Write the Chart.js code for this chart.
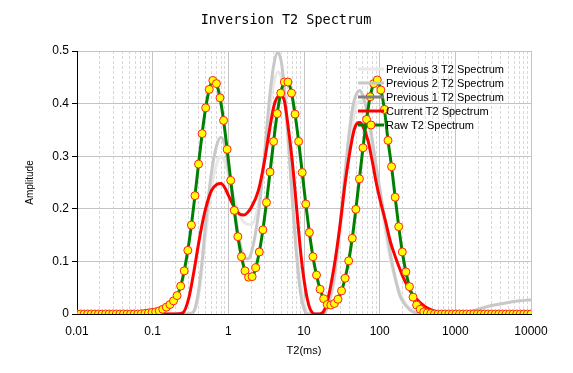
<!DOCTYPE html>
<html>
<head>
<meta charset="utf-8">
<script src="https://cdn.jsdelivr.net/npm/chart.js@4.4.1/dist/chart.umd.min.js"></script>
<style>
  html, body { margin:0; padding:0; background:#fff }
  #wrap { width:573px; height:373px }
</style>
</head>
<body>
<div id="wrap"><canvas id="t2Chart" width="573" height="373"></canvas></div>
<script>
// T2 axis: decades and their labels
const xDecades = [0.01, 0.1, 1, 10, 100, 1000, 10000]
const xTickLabels = ['0.01', '0.1', '1', '10', '100', '1000', '10000']
const yTicks = [0, 0.1, 0.2, 0.3, 0.4, 0.5]
const yTickLabels = ['0', '0.1', '0.2', '0.3', '0.4', '0.5']

// inversion grid: 128 bins, log spaced 0.01 .. 10000 ms
const nBins = 128
const t2Bins = []
for (let i = 0; i < nBins; i++) t2Bins.push(0.01 * Math.pow(10, 6 * i / (nBins - 1)))

// raw spectrum amplitude per bin
const rawAmp = [
  0,0,0,0,0,0,0,0,0,0, 0,0,0,0,0,0,0,0,0.0005,0.001,
  0.002,0.003,0.004,0.006,0.009,0.013,0.018,0.025,0.035,0.053,
  0.082,0.121,0.169,0.225,0.285,0.343,0.392,0.427,0.444,0.438,
  0.411,0.368,0.313,0.254,0.197,0.147,0.109,0.082,0.070,0.071,
  0.088,0.118,0.160,0.212,0.270,0.328,0.381,0.420,0.441,0.441,
  0.420,0.380,0.328,0.269,0.209,0.155,0.109,0.074,0.047,0.029,
  0.018,0.017,0.020,0.028,0.044,0.068,0.101,0.144,0.199,0.257,
  0.316,0.370,0.413,0.438,0.445,0.426,0.389,0.330,0.280,0.222,
  0.166,0.118,0.080,0.052,0.032,0.017,0.009,0.004,0.002,0.001,
  0,0,0,0,0,0,0,0,0,0, 0,0,0,0,0,0,0,0,0,0, 0,0,0,0,0,0,0,0
]

// current spectrum (T2 ms, amplitude)
const curT2  = [0.01,0.2,0.25,0.3,0.35,0.4,0.45,0.5,0.6,0.7,0.8,0.9,1,1.2,1.4,1.6,1.8,2,2.5,3,3.5,4,4.5,5,5.5,6,7,8,9,10,11,12,13,14,16,18,20,25,30,35,40,45,50,55,60,70,80,90,100,120,140,160,180,200,250,300,400,500,600,800,1000,10000]
const curAmp = [0,0,0.002,0.03,0.08,0.13,0.17,0.2,0.235,0.246,0.248,0.24,0.226,0.203,0.19,0.188,0.193,0.202,0.235,0.29,0.35,0.395,0.413,0.415,0.405,0.37,0.29,0.2,0.12,0.065,0.03,0.01,0.002,0,0,0.004,0.02,0.09,0.17,0.25,0.305,0.345,0.362,0.364,0.357,0.33,0.29,0.25,0.22,0.175,0.135,0.11,0.09,0.073,0.045,0.03,0.014,0.007,0.004,0.001,0,0]

// previous 2 spectrum
const prev2T2  = [0.01,0.3,0.35,0.4,0.45,0.5,0.6,0.7,0.8,0.9,1,1.2,1.4,1.6,1.8,2,2.5,3,3.5,4,4.5,5,5.5,6,7,8,9,10,11,18,20,25,30,35,40,45,50,55,60,70,80,90,100,120,140,160,180,200,250,300,400,1000,1500,2000,3000,5000,7000,10000]
const prev2Amp = [0,0,0.005,0.04,0.1,0.17,0.27,0.32,0.336,0.32,0.28,0.2,0.14,0.11,0.105,0.115,0.19,0.3,0.41,0.475,0.497,0.48,0.43,0.36,0.22,0.11,0.04,0.01,0,0,0.01,0.07,0.17,0.27,0.35,0.4,0.42,0.425,0.415,0.38,0.33,0.28,0.24,0.17,0.11,0.07,0.04,0.025,0.008,0.002,0,0,0.004,0.009,0.016,0.022,0.025,0.027]

// previous 3 spectrum
const prev3T2  = [0.01,0.3,0.4,0.5,0.6,0.7,0.8,0.9,1,1.2,1.5,2,2.5,3,3.5,4,4.5,5,5.5,6,7,8,10,12,18,20,25,30,40,50,60,80,100,140,200,300,400,10000]
const prev3Amp = [0,0,0.03,0.15,0.24,0.285,0.3,0.29,0.265,0.22,0.18,0.17,0.21,0.3,0.39,0.44,0.46,0.45,0.41,0.35,0.22,0.12,0.02,0,0,0.01,0.06,0.15,0.32,0.4,0.405,0.32,0.23,0.1,0.03,0.004,0,0]

// previous 1 spectrum (not shown in this run)
const prev1T2 = []
const prev1Amp = []

const seriesNames = ['Previous 3 T2 Spectrum', 'Previous 2 T2 Spectrum', 'Previous 1 T2 Spectrum', 'Current T2 Spectrum', 'Raw T2 Spectrum']

const pts = (xs, ys) => xs.map((x, i) => ({x, y: ys[i]}))

// minor gridlines 2..9 in each decade
const gridTicks = []
xDecades.forEach((d, k) => {
  gridTicks.push({value: d, major: true})
  if (k < xDecades.length - 1) for (let m = 2; m <= 9; m++) gridTicks.push({value: d * m, major: false})
})

const legendPlugin = {
  id: 'sideLegend',
  afterDraw(chart) {
    const ctx = chart.ctx
    ctx.save()
    ctx.font = '11px "Liberation Sans", Arial, sans-serif'
    ctx.textBaseline = 'middle'
    ctx.fillStyle = '#000'
    chart.data.datasets.forEach((ds, i) => {
      const y = 69 + i * 14
      ctx.strokeStyle = ds.borderColor
      ctx.lineWidth = 3
      ctx.beginPath(); ctx.moveTo(358, y); ctx.lineTo(384, y); ctx.stroke()
      if (ds.pointRadius > 0) {
        ctx.beginPath(); ctx.arc(371, y, 4, 0, Math.PI * 2)
        ctx.fillStyle = ds.pointBackgroundColor; ctx.fill()
        ctx.strokeStyle = ds.pointBorderColor; ctx.lineWidth = 1; ctx.stroke()
        ctx.fillStyle = '#000'
      }
      ctx.fillText(ds.label, 386, y + 0.5)
    })
    ctx.restore()
  }
}

const titlePlugin = {
  id: 'topTitle',
  afterDraw(chart) {
    const ctx = chart.ctx
    ctx.save()
    ctx.font = '13.5px "DejaVu Sans Mono", monospace'
    ctx.textAlign = 'center'
    ctx.textBaseline = 'middle'
    ctx.fillStyle = '#000'
    ctx.fillText('Inversion T2 Spectrum', 286, 20.5)
    ctx.restore()
  }
}

const lineDs = (label, data, color, order) => ({
  label, data, borderColor: color, backgroundColor: color, borderWidth: 3,
  pointRadius: 0, pointHoverRadius: 0, tension: 0.4, cubicInterpolationMode: 'monotone',
  fill: false, order
})

new Chart(document.getElementById('t2Chart'), {
  type: 'line',
  data: {
    datasets: [
      lineDs(seriesNames[0], pts(prev3T2, prev3Amp), '#e8e8e8', 5),
      lineDs(seriesNames[1], pts(prev2T2, prev2Amp), '#c8c8c8', 4),
      lineDs(seriesNames[2], pts(prev1T2, prev1Amp), '#808080', 3),
      lineDs(seriesNames[3], pts(curT2, curAmp), '#ff0000', 2),
      {
        label: seriesNames[4], data: pts(t2Bins, rawAmp), borderColor: '#008000', borderWidth: 3,
        pointRadius: 4, pointBorderWidth: 1, pointBackgroundColor: '#ffff00', pointBorderColor: '#ff2020',
        tension: 0.4, cubicInterpolationMode: 'monotone', fill: false, order: 1
      }
    ]
  },
  options: {
    responsive: false,
    animation: false,
    events: [],
    layout: { padding: { top: 51, right: 42, bottom: 0, left: 0 } },
    plugins: { legend: { display: false }, tooltip: { enabled: false }, title: { display: false } },
    scales: {
      x: {
        type: 'logarithmic', min: 0.01, max: 10000,
        afterBuildTicks: s => { s.ticks = gridTicks.map(t => ({value: t.value, major: t.major})) },
        afterFit: s => { s.height = 59 },
        ticks: {
          autoSkip: false, maxRotation: 0, padding: 6, color: '#000',
          font: { family: '"Liberation Sans", Arial, sans-serif', size: 12 },
          callback: v => { const k = xDecades.indexOf(v); return k >= 0 ? xTickLabels[k] : '' }
        },
        grid: {
          color: c => (c.tick && c.tick.major) ? '#c4c4c4' : '#d8d8d8',
          lineWidth: 1, tickLength: 4, tickColor: 'rgba(0,0,0,0)'
        },
        border: { display: true, color: '#000', width: 1, dash: c => (c.tick && !c.tick.major) ? [3, 2] : [] },
        title: { display: true, text: 'T2(ms)', color: '#000', font: { family: '"Liberation Sans", Arial, sans-serif', size: 11 }, padding: { top: 0, bottom: 15 } }
      },
      y: {
        min: 0, max: 0.5,
        afterBuildTicks: s => { s.ticks = yTicks.map(v => ({value: v})) },
        afterFit: s => { s.width = 77 },
        ticks: {
          color: '#000', padding: 3,
          font: { family: '"Liberation Sans", Arial, sans-serif', size: 12 },
          callback: v => { const k = yTicks.findIndex(t => Math.abs(t - v) < 1e-9); return k >= 0 ? yTickLabels[k] : '' }
        },
        grid: { color: '#c4c4c4', lineWidth: 1, tickLength: 5, tickColor: '#000' },
        border: { display: true, color: '#000', width: 1 },
        title: { display: true, text: 'Amplitude', color: '#000', font: { family: '"Liberation Sans", Arial, sans-serif', size: 10 }, padding: { top: 24, bottom: 0 } }
      }
    }
  },
  plugins: [titlePlugin, legendPlugin]
})
</script>
</body>
</html>
